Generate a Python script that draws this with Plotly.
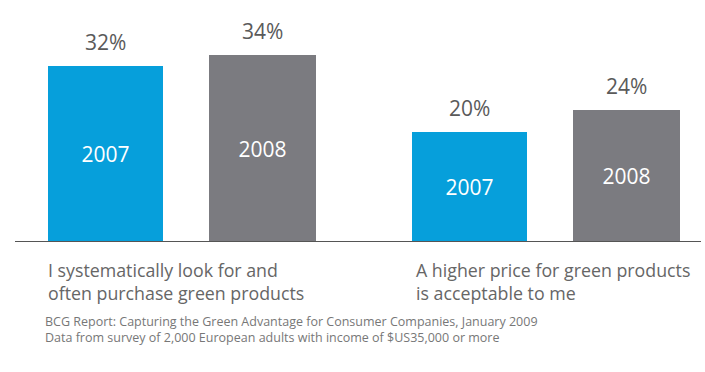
import plotly.graph_objects as go

# Data
groups = ["I systematically look for and<br>often purchase green products",
          "A higher price for green products<br>is acceptable to me"]
years = ["2007", "2008"]
values_2007 = [32, 20]
values_2008 = [34, 24]
source_lines = ["BCG Report: Capturing the Green Advantage for Consumer Companies, January 2009",
                "Data from survey of 2,000 European adults with income of $US35,000 or more"]

W, H = 705, 372
BOTTOM = 130
plot_h = H - BOTTOM
unit = 364.0  # px per group
x0_px = 105.5  # px position of first blue center
offset = 156.5 / unit
w_blue = 115 / unit
w_gray = 107 / unit
px_per_pct = 5.5
ymax = plot_h / px_per_pct

blue = "#069FDB"
gray = "#7B7B80"
txt = "#5A5A5A"

xs = list(range(len(groups)))
x_blue = [i for i in xs]
x_gray = [i + offset for i in xs]

fig = go.Figure()
fig.add_trace(go.Bar(x=x_blue, y=values_2007, width=w_blue, marker=dict(color=blue, line=dict(width=0)),
                     text=[years[0]] * len(xs), textposition="inside", insidetextanchor="middle",
                     textfont=dict(color="white", size=21, family="Open Sans"), name=years[0],
                     hoverinfo="skip"))
fig.add_trace(go.Bar(x=x_gray, y=values_2008, width=w_gray, marker=dict(color=gray, line=dict(width=0)),
                     text=[years[1]] * len(xs), textposition="inside", insidetextanchor="middle",
                     textfont=dict(color="white", size=21, family="Open Sans"), name=years[1],
                     hoverinfo="skip"))

annotations = []
for xv, yv in list(zip(x_blue, values_2007)) + list(zip(x_gray, values_2008)):
    annotations.append(dict(x=xv, y=yv, xref="x", yref="y", text=f"{yv}%", showarrow=False,
                            yanchor="bottom", yshift=8, font=dict(size=21, color=txt, family="Open Sans")))

for i, g in enumerate(groups):
    annotations.append(dict(x=x_blue[i] - w_blue / 2, y=(plot_h - 256) / plot_h, xref="x", yref="paper",
                            text=g, showarrow=False, xanchor="left", yanchor="top", align="left",
                            xshift=-2 if i == 0 else 2,
                            font=dict(size=17.8, color="#666666", family="Open Sans")))

annotations.append(dict(x=x_blue[0] - w_blue / 2, y=(plot_h - 311) / plot_h, xref="x", yref="paper",
                        text="<br>".join(source_lines), showarrow=False, xanchor="left", yanchor="top",
                        align="left", xshift=-5,
                        font=dict(size=12.5, color="#777777", family="Open Sans")))

fig.update_layout(
    width=W, height=H, margin=dict(l=0, r=0, t=0, b=BOTTOM),
    paper_bgcolor="white", plot_bgcolor="white", showlegend=False,
    barmode="overlay", bargap=0,
    xaxis=dict(range=[-x0_px / unit, (W - x0_px) / unit], visible=False, fixedrange=True),
    yaxis=dict(range=[0, ymax], visible=False, fixedrange=True),
    annotations=annotations,
    shapes=[dict(type="line", xref="paper", yref="y", x0=15 / W, x1=701 / W, y0=0, y1=0,
                 line=dict(color="#555555", width=2))],
    uniformtext=dict(minsize=10, mode="show"),
)

fig.write_html("out.html")
